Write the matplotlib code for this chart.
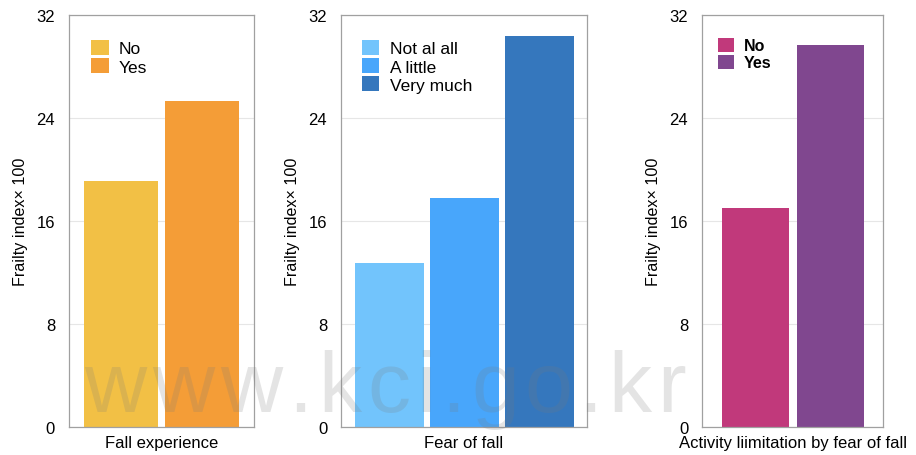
import matplotlib.pyplot as plt
from matplotlib.patches import Patch

plt.rcParams['font.family'] = ['Liberation Sans', 'DejaVu Sans']

# Frailty index (x100) by group
fall_labels = ['No', 'Yes']
fall_values = [19.1, 25.3]
fall_colors = ['#F2C045', '#F49D37']

fear_labels = ['Not al all', 'A little', 'Very much']
fear_values = [12.7, 17.8, 30.4]
fear_colors = ['#72C4FC', '#48A6FB', '#3577BD']

limit_labels = ['No', 'Yes']
limit_values = [17.0, 29.7]
limit_colors = ['#C1397B', '#80478F']

yticks = [0, 8, 16, 24, 32]
ylabel = 'Frailty index\u00d7 100'
watermark = 'www.kci.go.kr'

panels = [
    # (axes rect, xlim, bar width, labels, values, colors, xlabel, legend anchor, bold legend)
    ([0.0753, 0.0614, 0.2020, 0.9035], (-0.64, 1.64), 0.91,
     fall_labels, fall_values, fall_colors, 'Fall experience', (0.12, 0.94), False),
    ([0.3723, 0.0614, 0.2686, 0.9035], (-0.64, 2.63), 0.92,
     fear_labels, fear_values, fear_colors, 'Fear of fall', (0.085, 0.94), False),
    ([0.7664, 0.0614, 0.1976, 0.9035], (-0.72, 1.71), 0.90,
     limit_labels, limit_values, limit_colors, 'Activity liimitation by fear of fall', (0.09, 0.945), True),
]

W, H = 916, 456
fig = plt.figure(figsize=(W / 100, H / 100), dpi=100)

for rect, xlim, width, labels, values, colors, xlabel, anchor, bold in panels:
    ax = fig.add_axes(rect)
    xs = range(len(values))
    ax.bar(xs, values, width=width, color=colors, zorder=2)
    ax.set_xlim(*xlim)
    ax.set_ylim(0, 32)
    ax.set_yticks(yticks)
    ax.set_xticks([])
    ax.tick_params(axis='y', length=0, pad=10, labelsize=12)
    ax.grid(axis='y', color='#E6E6E6', linewidth=0.8, zorder=0)
    for sp in ax.spines.values():
        sp.set_color('#A0A0A0')
        sp.set_linewidth(0.9)
    ax.set_ylabel(ylabel, fontsize=11.6, labelpad=6)
    ax.set_xlabel(xlabel, fontsize=12, labelpad=6)

    handles = [Patch(facecolor=c, edgecolor='none') for c in colors]
    ax.legend(handles, labels, loc='upper left', bbox_to_anchor=anchor,
              frameon=False, borderpad=0, borderaxespad=0,
              handlelength=1.0, handleheight=1.0, handletextpad=0.6,
              labelspacing=0.08,
              prop={'size': 11.5 if bold else 12.5,
                    'weight': 'bold' if bold else 'normal'})

# site watermark, letter-spaced across the panels
wm_style = dict(fontsize=62, color='#7A7A7A', alpha=0.2, family=['Liberation Sans'],
                va='baseline', ha='left', zorder=10)
renderer = fig.canvas.get_renderer()
advances = []
for ch in watermark:
    t = fig.text(0, 0, ch, **wm_style)
    advances.append(t.get_window_extent(renderer).width)
    t.remove()
x0, x1, base = 84, 686, 412
gap = (x1 - x0 - sum(advances)) / (len(watermark) - 1)
x = x0
for ch, adv in zip(watermark, advances):
    fig.text(x / W, (H - base) / H, ch, **wm_style)
    x += adv + gap

fig.savefig('out.png', dpi=100)
